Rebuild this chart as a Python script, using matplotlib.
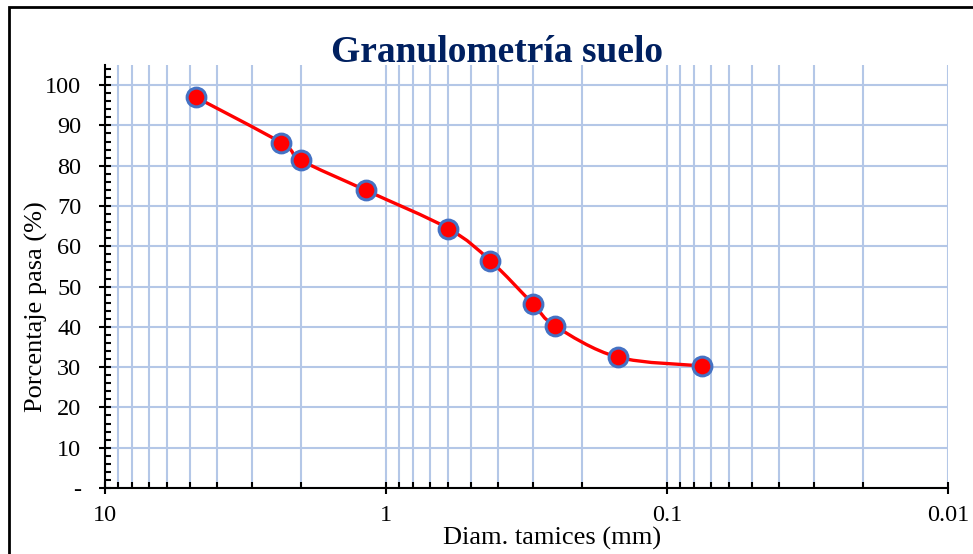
import matplotlib
matplotlib.use("Agg")
import matplotlib.pyplot as plt
import numpy as np
from matplotlib.path import Path
from matplotlib.patches import PathPatch, Rectangle
from matplotlib.ticker import FixedLocator, FuncFormatter, LogLocator, MultipleLocator

# sieve openings (mm) and cumulative percent passing
diam_mm = [4.75, 2.36, 2.0, 1.18, 0.60, 0.425, 0.30, 0.25, 0.15, 0.075]
pct_passing = [97.0, 85.7, 81.3, 73.9, 64.4, 56.4, 45.7, 40.2, 32.5, 30.3]

x_major = [10, 1, 0.1, 0.01]
x_major_labels = ["10", "1", "0.1", "0.01"]
y_major = [0, 10, 20, 30, 40, 50, 60, 70, 80, 90, 100]

RED = "#FF0000"
MARKER_EDGE = "#4472C4"
GRID = "#B4C7E7"
TITLE = "#002060"

plt.rcParams["font.family"] = ["Liberation Serif", "DejaVu Serif"]


def smooth_path(xs, ys):
    # Catmull-Rom style smoothing done in (log10 x, y), written as cubic Beziers
    lx = np.log10(xs)
    y = np.asarray(ys, dtype=float)
    n = len(lx)
    verts = [(xs[0], y[0])]
    codes = [Path.MOVETO]
    for i in range(n - 1):
        i0 = max(i - 1, 0)
        i3 = min(i + 2, n - 1)
        c1x = lx[i] + (lx[i + 1] - lx[i0]) / 6
        c1y = y[i] + (y[i + 1] - y[i0]) / 6
        c2x = lx[i + 1] - (lx[i3] - lx[i]) / 6
        c2y = y[i + 1] - (y[i3] - y[i]) / 6
        verts += [(10 ** c1x, c1y), (10 ** c2x, c2y), (xs[i + 1], y[i + 1])]
        codes += [Path.CURVE4] * 3
    return Path(verts, codes)


def x_label_for(v, pos):
    idx = int(np.argmin([abs(np.log10(m) - np.log10(v)) for m in x_major]))
    return x_major_labels[idx]


fig = plt.figure(figsize=(9.73, 5.54), dpi=100)
ax = fig.add_axes([0.1079, 0.1191, 0.8664, 0.7636])

ax.set_xscale("log")
ax.set_xlim(10, 0.01)
ax.set_ylim(0, 105)

ax.xaxis.set_major_locator(FixedLocator(x_major))
ax.xaxis.set_major_formatter(FuncFormatter(x_label_for))
ax.xaxis.set_minor_locator(LogLocator(base=10, subs=np.arange(2, 10), numticks=20))
ax.xaxis.set_minor_formatter(FuncFormatter(lambda v, p: ""))

ax.yaxis.set_major_locator(FixedLocator(y_major))
ax.yaxis.set_major_formatter(FuncFormatter(lambda v, p: "-" if v == 0 else f"{v:.0f}"))
ax.yaxis.set_minor_locator(MultipleLocator(2))

ax.grid(True, which="both", axis="x", color=GRID, linewidth=1.5, zorder=0)
ax.grid(True, which="major", axis="y", color=GRID, linewidth=1.5, zorder=0)
ax.set_axisbelow(True)

for side in ("top", "right"):
    ax.spines[side].set_visible(False)
for side in ("left", "bottom"):
    ax.spines[side].set_linewidth(1.5)

ax.tick_params(axis="both", which="major", direction="inout", length=8, width=1.5,
               labelsize=17.5)
ax.tick_params(axis="both", which="minor", direction="in", length=4, width=1.5)
ax.tick_params(axis="x", which="major", pad=8)
ax.tick_params(axis="y", which="major", pad=13)

curve = PathPatch(smooth_path(diam_mm, pct_passing), facecolor="none", edgecolor=RED,
                  linewidth=2.4, zorder=3)
ax.add_patch(curve)
ax.plot(diam_mm, pct_passing, linestyle="none", marker="o", markersize=13.5,
        markerfacecolor=RED, markeredgecolor=MARKER_EDGE, markeredgewidth=2.2, zorder=4,
        clip_on=False)

fig.text(36 / 973, 1 - 307 / 554, "Porcentaje pasa (%)", fontsize=19, rotation=90,
         ha="center", va="center")
fig.text(552 / 973, 1 - 538 / 554, "Diam. tamices (mm)", fontsize=19,
         ha="center", va="center")

fig.text(0.511, 0.906, "Granulometría suelo", fontsize=27, fontweight="bold",
         color=TITLE, ha="center", va="center")

# chart frame
fig.patches.append(Rectangle((9 / 973, -0.05), 1.0, 1 - 7 / 554 + 0.05,
                             transform=fig.transFigure, fill=False,
                             edgecolor="black", linewidth=2))

fig.savefig("out.png", dpi=100)
